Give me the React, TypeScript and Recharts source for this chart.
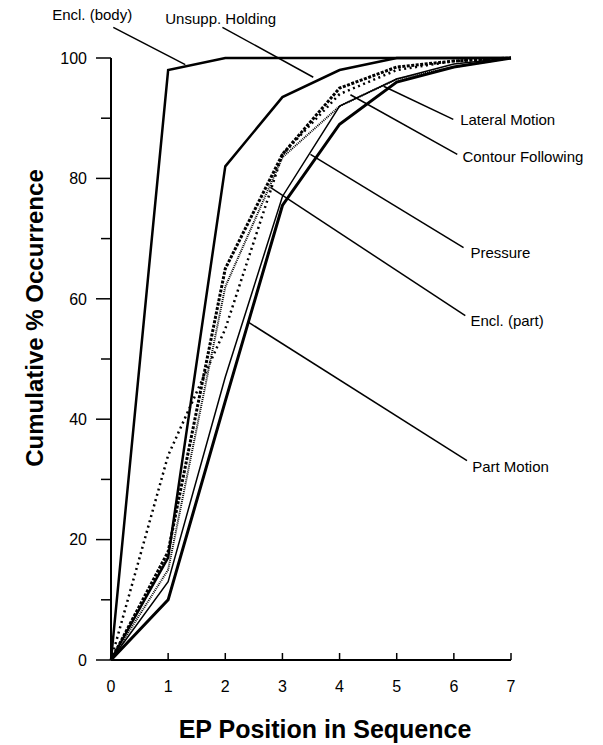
import React from "react";
import { LineChart, Line, XAxis, YAxis, ReferenceLine, ReferenceDot, Label } from "recharts";

const positions = [0, 1, 2, 3, 4, 5, 6, 7];
const enclBody = [0, 98, 100, 100, 100, 100, 100, 100];
const unsuppHolding = [0, 17, 82, 93.5, 98, 100, 100, 100];
const contourFollowing = [0, 18, 65, 84, 95, 98.5, 99.5, 100];
const lateralMotion = [0, 15, 62, 83.5, 92, 96.5, 98.5, 100];
const pressure = [0, 13, 47, 77, 92, 96.5, 99, 100];
const enclPart = [0, 34, 55, 84, 94, 98, 99.5, 100];
const partMotion = [0, 10, 43, 75.5, 89, 96, 98.5, 100];

const xTicks = [0, 1, 2, 3, 4, 5, 6, 7];
const yTicks = [0, 10, 20, 30, 40, 50, 60, 70, 80, 90, 100];
const yLabelTicks = [0, 20, 40, 60, 80, 100];

const rows = positions.map((x, i) => ({
  x,
  enclBody: enclBody[i],
  unsuppHolding: unsuppHolding[i],
  contourFollowing: contourFollowing[i],
  lateralMotion: lateralMotion[i],
  pressure: pressure[i],
  enclPart: enclPart[i],
  partMotion: partMotion[i],
}));

const seriesStyles = [
  { key: "enclBody", name: "Encl. (body)", width: 2.5, dash: undefined },
  { key: "unsuppHolding", name: "Unsupp. Holding", width: 2.5, dash: undefined },
  { key: "contourFollowing", name: "Contour Following", width: 3, dash: "3 1.5" },
  { key: "lateralMotion", name: "Lateral Motion", width: 2, dash: "1 1" },
  { key: "pressure", name: "Pressure", width: 1.5, dash: undefined },
  { key: "enclPart", name: "Encl. (part)", width: 2.5, dash: "2 3.5" },
  { key: "partMotion", name: "Part Motion", width: 3, dash: undefined },
];

// annotation: leader from a point on the series to near the label, and the label anchor
const annotations = [
  { text: "Encl. (body)", from: { x: 1.3, y: 98.9 }, to: { x: 0.04, y: 105.1 }, at: { x: -1.03, y: 106.3 } },
  { text: "Unsupp. Holding", from: { x: 3.54, y: 96.8 }, to: { x: 1.95, y: 105.1 }, at: { x: 0.95, y: 105.6 } },
  { text: "Lateral Motion", from: { x: 4.77, y: 95.3 }, to: { x: 5.99, y: 89.8 }, at: { x: 6.11, y: 88.9 } },
  { text: "Contour Following", from: { x: 4.19, y: 93.9 }, to: { x: 6.06, y: 84.0 }, at: { x: 6.15, y: 82.8 } },
  { text: "Pressure", from: { x: 3.49, y: 84.0 }, to: { x: 6.17, y: 68.5 }, at: { x: 6.29, y: 66.8 } },
  { text: "Encl. (part)", from: { x: 2.79, y: 78.5 }, to: { x: 6.2, y: 57.2 }, at: { x: 6.29, y: 55.4 } },
  { text: "Part Motion", from: { x: 2.39, y: 56.2 }, to: { x: 6.23, y: 33.1 }, at: { x: 6.32, y: 31.3 } },
];

const FONT = "'Liberation Sans', Arial, Helvetica, sans-serif";

const XTick = (props: any) => {
  const { x, y, payload } = props;
  return (
    <g>
      <line x1={x} y1={y - 7} x2={x} y2={y} stroke="#000" strokeWidth={1.5} />
      <text x={x} y={y + 32} textAnchor="middle" fontSize={16} fontFamily={FONT} fill="#000">
        {payload.value}
      </text>
    </g>
  );
};

const YTick = (props: any) => {
  const { x, y, payload } = props;
  const axisX = x + 24;
  const major = yLabelTicks.includes(payload.value);
  const len = major ? 15 : 10;
  return (
    <g>
      <line x1={axisX - len} y1={y} x2={axisX} y2={y} stroke="#000" strokeWidth={1.5} />
      {major && (
        <text x={x} y={y} dy="0.36em" textAnchor="end" fontSize={16} fontFamily={FONT} fill="#000">
          {payload.value}
        </text>
      )}
    </g>
  );
};

export default function App() {
  return (
    <div style={{ position: "absolute", left: 0, top: 0, background: "#fff" }}>
      <LineChart width={603} height={745} data={rows} margin={{ top: 58, right: 92, bottom: 0, left: 0 }}>
        <XAxis
          dataKey="x"
          type="number"
          domain={[0, 7]}
          ticks={xTicks}
          height={85}
          tickSize={0}
          tickMargin={0}
          tickLine={false}
          tick={<XTick />}
          axisLine={{ stroke: "#000", strokeWidth: 2 }}
        >
          <Label
            content={(p: any) => {
              const vb = p.viewBox;
              return (
                <text x={vb.x + vb.width / 2 + 14} y={vb.y + 78} textAnchor="middle" fontSize={25} fontWeight="bold" fontFamily={FONT} fill="#000">
                  EP Position in Sequence
                </text>
              );
            }}
          />
        </XAxis>
        <YAxis
          type="number"
          domain={[0, 100]}
          ticks={yTicks}
          width={111}
          tickSize={15}
          tickMargin={9}
          tickLine={false}
          tick={<YTick />}
          axisLine={{ stroke: "#000", strokeWidth: 2 }}
        >
          <Label
            content={(p: any) => {
              const vb = p.viewBox;
              const cx = vb.x + 43;
              const cy = vb.y + 260;
              return (
                <text x={cx} y={cy} transform={`rotate(-90 ${cx} ${cy})`} textAnchor="middle" fontSize={24} fontWeight="bold" fontFamily={FONT} fill="#000">
                  Cumulative % Occurrence
                </text>
              );
            }}
          />
        </YAxis>
        {seriesStyles.map((s) => (
          <Line
            key={s.key}
            dataKey={s.key}
            name={s.name}
            type="linear"
            stroke="#000"
            strokeWidth={s.width}
            strokeDasharray={s.dash}
            dot={false}
            activeDot={false}
            isAnimationActive={false}
          />
        ))}
        {annotations.map((a) => (
          <ReferenceLine
            key={"l" + a.text}
            segment={[a.from, a.to]}
            ifOverflow="visible"
            stroke="#000"
            strokeWidth={1.5}
          />
        ))}
        {annotations.map((a) => (
          <ReferenceDot
            key={"t" + a.text}
            x={a.at.x}
            y={a.at.y}
            ifOverflow="visible"
            r={0}
            shape={(p: any) => (
              <text x={p.cx} y={p.cy} fontSize={15} fontFamily={FONT} fill="#000">
                {a.text}
              </text>
            )}
          />
        ))}
      </LineChart>
    </div>
  );
}
